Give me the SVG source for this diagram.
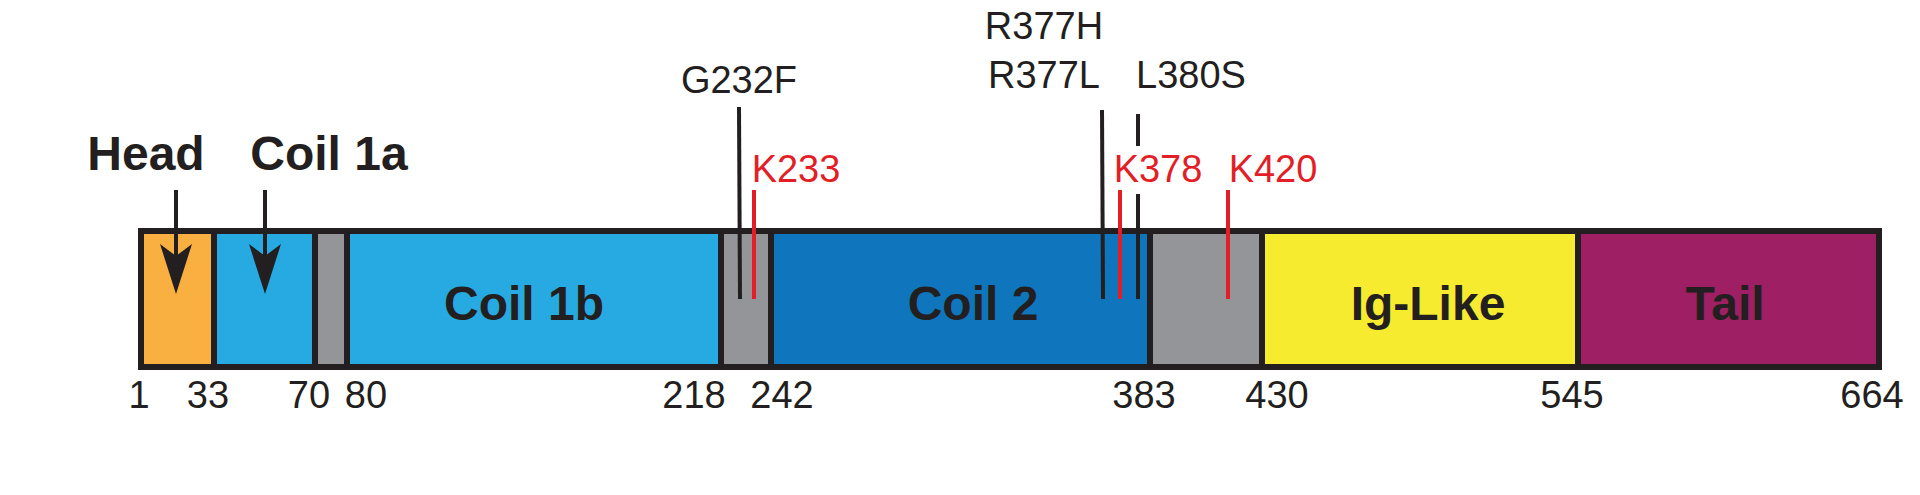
<svg xmlns="http://www.w3.org/2000/svg" width="1920" height="495" viewBox="0 0 1920 495">
<style>
.seg{stroke:#231f20;stroke-width:6}
.lbl{font-family:"Liberation Sans",Arial,sans-serif;font-weight:bold;font-size:48px;fill:#231f20;text-anchor:middle}
.num{font-family:"Liberation Sans",Arial,sans-serif;font-size:38px;fill:#231f20;text-anchor:middle}
.mut{font-family:"Liberation Sans",Arial,sans-serif;font-size:38px;fill:#231f20;text-anchor:middle}
.red{fill:#e31e26}
.bl{stroke:#231f20;stroke-width:4}
.rl{stroke:#e31e26;stroke-width:4}
.ar{stroke:#231f20;stroke-width:4}
</style>
<defs>
<marker id="ah" markerWidth="12" markerHeight="14" refX="6" refY="13" orient="auto" markerUnits="userSpaceOnUse" viewBox="0 0 12 14">
<path d="M0,0 L6,2 L12,0 L6,14 Z" fill="#231f20"/>
</marker>
</defs>
<rect x="0" y="0" width="1920" height="495" fill="#fff"/>
<g id="bar">
<g id="head"><rect class="seg" x="141" y="231" width="73" height="136" fill="#f9b040"/></g>
<g id="coil1a"><rect class="seg" x="214" y="231" width="101" height="136" fill="#27aae1"/></g>
<g id="linker1"><rect class="seg" x="315" y="231" width="32" height="136" fill="#939598"/></g>
<g id="coil1b"><rect class="seg" x="347" y="231" width="374" height="136" fill="#27aae1"/><text class="lbl" x="524" y="320">Coil 1b</text></g>
<g id="linker12"><rect class="seg" x="721" y="231" width="50" height="136" fill="#939598"/></g>
<g id="coil2"><rect class="seg" x="771" y="231" width="379" height="136" fill="#0f75bc"/><text class="lbl" x="973" y="320">Coil 2</text></g>
<g id="linker2"><rect class="seg" x="1150" y="231" width="112" height="136" fill="#939598"/></g>
<g id="iglike"><rect class="seg" x="1262" y="231" width="316" height="136" fill="#f6eb2e"/><text class="lbl" x="1428" y="320">Ig-Like</text></g>
<g id="tail"><rect class="seg" x="1578" y="231" width="301" height="136" fill="#9e1f63"/><text class="lbl" x="1725" y="320">Tail</text></g>
</g>
<g id="connectors">
<path d="M176,190 V262" class="ar"/>
<path d="M176,294 L160,244 L176,256 L192,244 Z" fill="#231f20"/>
<path d="M265,190 V262" class="ar"/>
<path d="M265,294 L249,244 L265,256 L281,244 Z" fill="#231f20"/>
<line class="bl" x1="739" y1="107" x2="740" y2="299"/>
<line class="rl" x1="754" y1="190" x2="754" y2="299"/>
<line class="bl" x1="1102" y1="110" x2="1103" y2="299"/>
<line class="rl" x1="1120" y1="190" x2="1120" y2="299"/>
<line class="bl" x1="1138" y1="114" x2="1138" y2="146"/>
<line class="bl" x1="1138" y1="194" x2="1138" y2="299"/>
<line class="rl" x1="1228" y1="190" x2="1228" y2="299"/>
</g>
<g id="labels">
<text class="lbl" x="146" y="170">Head</text>
<text class="lbl" x="329" y="170">Coil 1a</text>
<text class="mut" x="739" y="93">G232F</text>
<text class="mut red" x="796" y="182">K233</text>
<text class="mut" x="1044" y="39">R377H</text>
<text class="mut" x="1044" y="88">R377L</text>
<text class="mut" x="1191" y="88">L380S</text>
<text class="mut red" x="1158" y="182">K378</text>
<text class="mut red" x="1273" y="182">K420</text>
</g>
<g id="numbers">
<text class="num" x="139" y="408">1</text>
<text class="num" x="208" y="408">33</text>
<text class="num" x="309" y="408">70</text>
<text class="num" x="366" y="408">80</text>
<text class="num" x="694" y="408">218</text>
<text class="num" x="782" y="408">242</text>
<text class="num" x="1144" y="408">383</text>
<text class="num" x="1277" y="408">430</text>
<text class="num" x="1572" y="408">545</text>
<text class="num" x="1872" y="408">664</text>
</g>
</svg>
